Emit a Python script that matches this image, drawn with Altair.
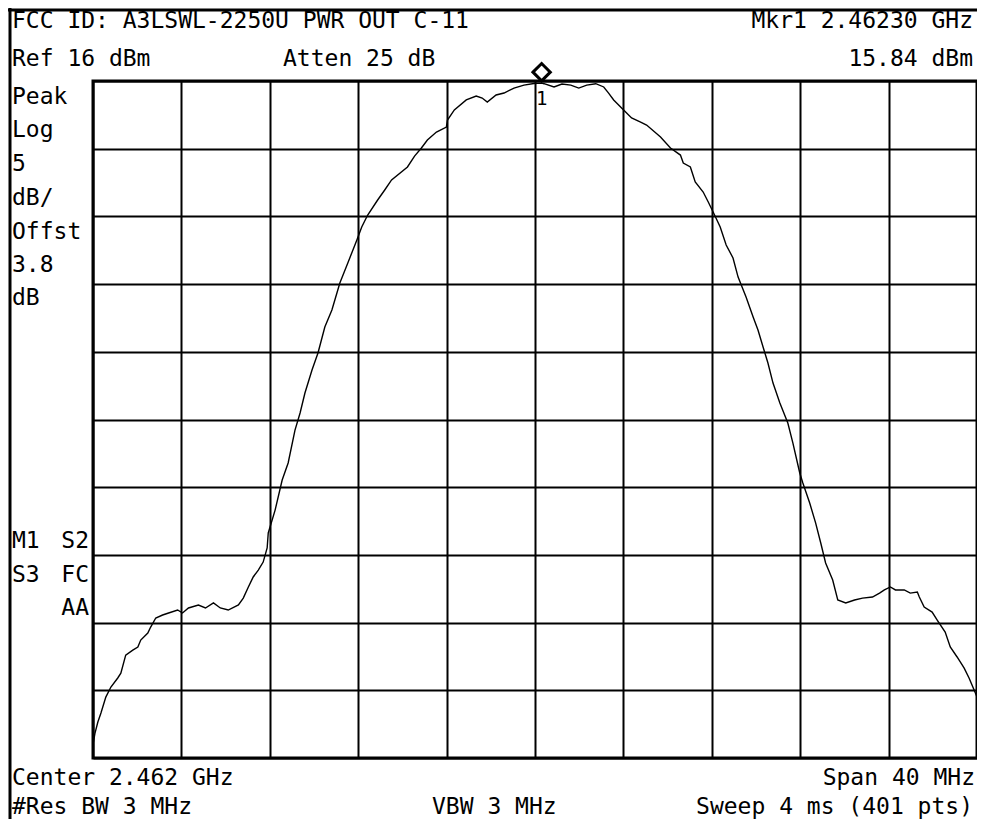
import altair as alt
import pandas as pd

# spectrum analyzer trace (MHz, dBm)
freq_mhz = [
    2442.00, 2442.09, 2442.22, 2442.36, 2442.58, 2442.81, 2443.12, 2443.26,
    2443.48, 2443.80, 2444.03, 2444.16, 2444.48, 2444.61, 2444.84, 2445.15,
    2445.42, 2445.83, 2446.05, 2446.32, 2446.77, 2447.09, 2447.45, 2447.76,
    2448.12, 2448.58, 2448.80, 2449.03, 2449.25, 2449.48, 2449.70, 2449.88,
    2449.93, 2450.24, 2450.56, 2450.83, 2451.14, 2451.37, 2451.59, 2451.91,
    2452.18, 2452.49, 2452.81, 2453.17, 2453.53, 2453.94, 2454.16, 2454.43,
    2454.88, 2455.20, 2455.51, 2456.23, 2456.55, 2456.86, 2457.13, 2457.54,
    2457.99, 2458.04, 2458.35, 2458.89, 2459.34, 2459.61, 2459.84, 2460.24,
    2460.60, 2461.05, 2461.50, 2461.95, 2462.30, 2462.41, 2462.86, 2463.22,
    2463.62, 2463.98, 2464.34, 2464.75, 2465.11, 2465.33, 2465.56, 2466.01,
    2466.37, 2466.78, 2467.05, 2467.68, 2468.13, 2468.58, 2468.71, 2469.03,
    2469.25, 2469.61, 2469.84, 2470.06, 2470.38, 2470.65, 2470.96, 2471.19,
    2471.55, 2471.87, 2472.09, 2472.32, 2472.54, 2472.77, 2473.08, 2473.44,
    2473.67, 2473.98, 2474.12, 2474.43, 2474.70, 2474.93, 2475.15, 2475.47,
    2475.70, 2476.06, 2476.46, 2476.82, 2477.27, 2477.59, 2477.81, 2478.08,
    2478.31, 2478.71, 2478.98, 2479.30, 2479.39, 2479.61, 2479.97, 2480.20,
    2480.56, 2480.79, 2481.10, 2481.42, 2481.64, 2481.87, 2482.00,
]
level_dbm = [
    -33.00, -32.16, -31.34, -30.68, -29.50, -28.76, -28.09, -27.73,
    -26.40, -26.03, -25.80, -25.29, -24.77, -24.33, -23.66, -23.44,
    -23.29, -23.07, -23.29, -22.92, -22.70, -22.92, -22.55, -22.92,
    -23.07, -22.70, -22.19, -21.37, -20.63, -20.12, -19.53, -18.49,
    -17.38, -15.69, -13.47, -12.21, -9.78, -8.52, -7.04, -5.35,
    -4.09, -2.17, -0.91, 1.08, 2.56, 4.26, 5.22, 6.10,
    7.21, 7.95, 8.69, 9.65, 10.45, 11.05, 11.64, 12.23,
    12.60, 13.12, 13.86, 14.60, 14.89, 14.74, 14.45, 14.97,
    15.11, 15.48, 15.70, 15.82, 15.84, 15.80, 15.56, 15.78,
    15.70, 15.48, 15.70, 15.80, 15.56, 15.11, 14.60, 13.86,
    13.27, 12.97, 12.75, 11.86, 11.05, 10.53, 9.94, 9.65,
    8.54, 7.80, 7.06, 6.32, 5.22, 3.89, 2.93, 1.52,
    0.05, -1.43, -2.39, -3.65, -4.83, -6.31, -7.78, -9.26,
    -10.74, -12.95, -13.69, -15.17, -16.65, -18.12, -19.60, -20.86,
    -22.33, -22.55, -22.33, -22.19, -22.11, -21.82, -21.59, -21.37,
    -21.59, -21.59, -21.82, -21.74, -22.11, -22.85, -23.22, -23.81,
    -24.70, -25.80, -26.54, -27.36, -28.09, -28.98, -29.50,
]

marker_freq = [2462.30]
marker_level = [15.84]
marker_name = ["1"]

x_grid = list(range(2442, 2483, 4))   # 4 MHz/div
y_grid = list(range(-34, 17, 5))      # 5 dB/div, ref 16 dBm

FONT = "DejaVu Sans Mono"
SIZE = 23

trace = pd.DataFrame({"freq": freq_mhz, "level": level_dbm})
mkr = pd.DataFrame({"freq": marker_freq, "level": marker_level, "name": marker_name})

xs = alt.Scale(domain=[2442, 2482], nice=False, zero=False)
ys = alt.Scale(domain=[-34, 16], nice=False, zero=False)


def grid_axis(vals):
    return alt.Axis(values=vals, grid=True, gridColor="black", gridWidth=2,
                    gridOpacity=1, labels=False, ticks=False, domain=False,
                    title="")


line = alt.Chart(trace).mark_line(color="black", strokeWidth=1.4).encode(
    x=alt.X("freq:Q", scale=xs, axis=grid_axis(x_grid)),
    y=alt.Y("level:Q", scale=ys, axis=grid_axis(y_grid)),
)

diamond = alt.Chart(mkr).mark_point(
    shape="diamond", filled=False, color="black", strokeWidth=3,
    size=300, yOffset=-11, opacity=1
).encode(x=alt.X("freq:Q", scale=xs), y=alt.Y("level:Q", scale=ys))

mkr_num = alt.Chart(mkr).mark_text(
    font=FONT, fontSize=19, dy=22, align="center", baseline="alphabetic", color="black"
).encode(x=alt.X("freq:Q", scale=xs), y=alt.Y("level:Q", scale=ys), text="name:N")


# screen annotations; x/y relative to the graticule's top-left corner
def label(text, x, y, align="left"):
    return alt.Chart(pd.DataFrame({"t": [text]})).mark_text(
        font=FONT, fontSize=SIZE, align=align, baseline="alphabetic", color="black"
    ).encode(x=alt.value(x), y=alt.value(y), text="t:N")


labels = [
    label("FCC ID: A3LSWL-2250U PWR OUT C-11", -81, -53),
    label("Mkr1  2.46230 GHz", 880, -53, "right"),
    label("Ref 16 dBm", -81, -15),
    label("Atten 25 dB", 190, -15),
    label("15.84 dBm", 880, -15, "right"),
    label("Peak", -81, 23),
    label("Log", -81, 56),
    label("5", -81, 90),
    label("dB/", -81, 124),
    label("Offst", -81, 158),
    label("3.8", -81, 191),
    label("dB", -81, 224),
    label("M1", -81, 467),
    label("S2", -4, 467, "right"),
    label("S3", -81, 501),
    label("FC", -4, 501, "right"),
    label("AA", -4, 534, "right"),
    label("Center 2.462 GHz", -81, 704),
    label("Span 40 MHz", 882, 704, "right"),
    label("#Res BW 3 MHz", -81, 733),
    label("VBW 3 MHz", 339, 733),
    label("Sweep 4 ms (401 pts)", 880, 733, "right"),
]

dummy = pd.DataFrame({"d": [0]})
left_edge = alt.Chart(dummy).mark_rule(color="black", strokeWidth=3).encode(
    x=alt.value(-83), y=alt.value(-73), y2=alt.value(738))
top_edge = alt.Chart(dummy).mark_rule(color="black", strokeWidth=3).encode(
    x=alt.value(-85), x2=alt.value(884), y=alt.value(-71))

chart = alt.layer(line, diamond, mkr_num, left_edge, top_edge, *labels).properties(
    width=884,
    height=677,
    padding={"left": 85, "top": 73, "right": 0, "bottom": 61},
    autosize=alt.AutoSizeParams(type="none"),
    background="white",
).configure_view(stroke="black", strokeWidth=3)

chart.save("out.html", embed_options={"renderer": "svg", "actions": False})
